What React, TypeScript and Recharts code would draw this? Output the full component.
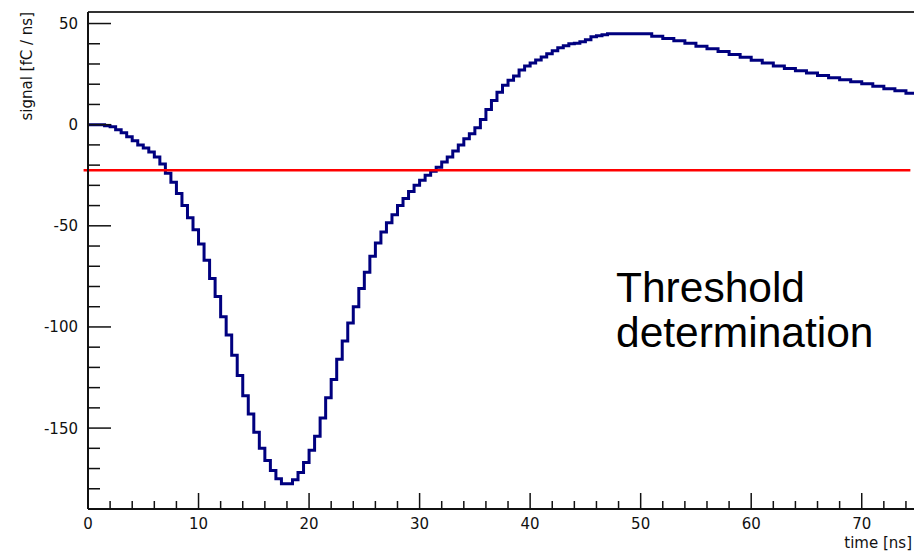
import { LineChart, Line, XAxis, YAxis, ReferenceLine } from "recharts";

// histogram bins of 0.5 ns from 0 to 75 ns
const BIN_WIDTH = 0.5;

const signal = [
  0, 0, 0, -0.5, -1, -2.5, -4, -6, -8, -10,
  -11.5, -13.5, -16, -19.5, -24, -28.5, -34, -40, -46, -52,
  -59, -67, -76, -85, -95, -104, -114, -124, -134, -143,
  -152, -160, -166, -171, -175, -177.5, -177.5, -175.5, -172, -167,
  -161, -154, -145, -135, -126, -116, -107, -98, -90, -81,
  -73, -65, -58.5, -53, -48.5, -44.5, -40, -36.5, -33, -30,
  -27.5, -25, -23, -21, -18.5, -16, -13, -10, -7, -4.5,
  -1.5, 2.5, 7.5, 12, 16, 19.5, 22, 24, 27, 29,
  30.5, 32, 33.5, 35, 36.5, 38, 39, 40, 40.3, 41,
  42, 43.5, 44, 44.5, 45, 45, 45, 45, 45, 45,
  45, 45, 43.7, 43.7, 42.6, 42.6, 41.5, 41.5, 40.2, 40.2,
  38.8, 38.8, 37.5, 37.5, 36.2, 36.2, 34.7, 34.7, 33.3, 33.3,
  31.8, 31.8, 30.5, 30.5, 29, 29, 27.8, 27.8, 26.7, 26.7,
  25.5, 25.5, 24.3, 24.3, 23.2, 23.2, 22.2, 22.2, 21.2, 21.2,
  20.2, 20.2, 19, 19, 17.8, 17.8, 16.8, 16.8, 15.5, 15.5,
];

const threshold = -22.5;
const thresholdFrom = -0.4;
const thresholdTo = 74.4;

const xDomain = [0, 75];
const yDomain = [-190, 55.7];
const xTicks = [
  0, 2, 4, 6, 8, 10, 12, 14, 16, 18, 20, 22, 24, 26, 28, 30, 32, 34, 36, 38,
  40, 42, 44, 46, 48, 50, 52, 54, 56, 58, 60, 62, 64, 66, 68, 70, 72, 74,
];
const yTicks = [
  -190, -180, -170, -160, -150, -140, -130, -120, -110, -100, -90, -80, -70,
  -60, -50, -40, -30, -20, -10, 0, 10, 20, 30, 40, 50,
];

const chartData = signal.map((v, i) => ({ t: i * BIN_WIDTH, v }));
chartData.push({ t: signal.length * BIN_WIDTH, v: signal[signal.length - 1] });

const FONT = "'DejaVu Sans', sans-serif";
const INK = "#111";

const XTick = ({ x, y, payload }: any) => {
  const major = payload.value % 10 === 0;
  return (
    <g>
      <line x1={x} x2={x} y1={y} y2={y - (major ? 16 : 8)} stroke={INK} strokeWidth={1.5} />
      {major && (
        <text x={x} y={y + 19.5} textAnchor="middle" fontFamily={FONT} fontSize={15} fill={INK}>
          {payload.value}
        </text>
      )}
    </g>
  );
};

const YTick = ({ x, y, payload }: any) => {
  const major = payload.value % 50 === 0;
  return (
    <g>
      <line x1={x} x2={x + (major ? 23 : 12)} y1={y} y2={y} stroke={INK} strokeWidth={1.5} />
      {major && (
        <text x={x - 10} y={y + 5.5} textAnchor="end" fontFamily={FONT} fontSize={15} fill={INK}>
          {payload.value}
        </text>
      )}
    </g>
  );
};

export default function App() {
  return (
    <div style={{ position: "absolute", left: 0, top: 0, width: 914, height: 553, overflow: "hidden", background: "#fff" }}>
      <LineChart width={920} height={553} data={chartData} margin={{ top: 12, right: 3, bottom: 0, left: 0 }}>
        <XAxis
          dataKey="t"
          type="number"
          domain={xDomain}
          ticks={xTicks}
          interval={0}
          height={44}
          tickSize={0}
          tickMargin={0}
          tick={(p: any) => <XTick {...p} />}
          axisLine={{ stroke: INK, strokeWidth: 2 }}
          label={(p: any) => {
            const vb = p.viewBox;
            return (
              <text x={vb.x + vb.width - 5} y={vb.y + 39} textAnchor="end" fontFamily={FONT} fontSize={15} fill={INK}>
                time [ns]
              </text>
            );
          }}
        />
        <YAxis
          type="number"
          domain={yDomain}
          ticks={yTicks}
          interval={0}
          width={88}
          tickSize={0}
          tickMargin={0}
          tick={(p: any) => <YTick {...p} />}
          axisLine={{ stroke: INK, strokeWidth: 2 }}
          label={(p: any) => {
            const vb = p.viewBox;
            return (
              <text
                x={27}
                y={vb.y}
                textAnchor="end"
                dominantBaseline="central"
                transform={`rotate(-90, 27, ${vb.y})`}
                fontFamily={FONT}
                fontSize={15}
                fill={INK}
              >
                signal [fC / ns]
              </text>
            );
          }}
        />
        <ReferenceLine y={yDomain[1]} stroke="#333" strokeWidth={2} />
        <Line
          type="stepAfter"
          dataKey="v"
          stroke="#00007f"
          strokeWidth={3}
          dot={false}
          isAnimationActive={false}
        />
        <ReferenceLine
          segment={[
            { x: thresholdFrom, y: threshold },
            { x: thresholdTo, y: threshold },
          ]}
          ifOverflow="visible"
          stroke="#ff0000"
          strokeWidth={2.5}
        />
      </LineChart>
      <div
        style={{
          position: "absolute",
          left: 616,
          top: 265,
          fontFamily: "'Liberation Sans', Arial, sans-serif",
          fontSize: 42.5,
          lineHeight: "45px",
          color: "#000",
        }}
      >
        Threshold
        <br />
        determination
      </div>
    </div>
  );
}
